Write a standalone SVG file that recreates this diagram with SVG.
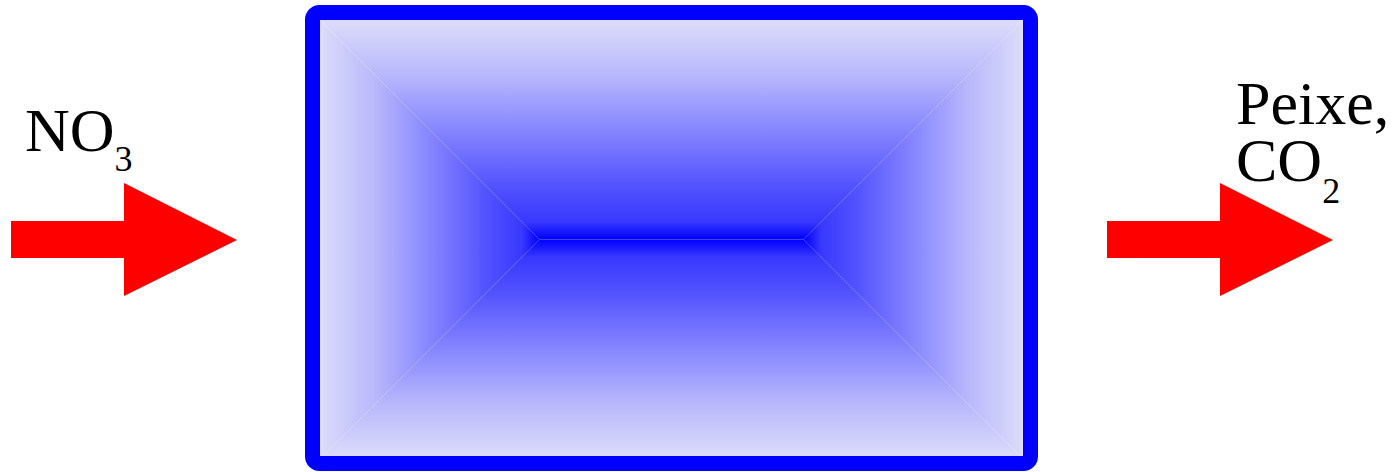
<svg xmlns="http://www.w3.org/2000/svg" width="1394" height="472" viewBox="0 0 1394 472">
<style>
.lbl{font-family:"Liberation Serif","Times New Roman",serif;font-size:62px;fill:#000}
.sub{font-size:36px}
.arrow{fill:#ff0000}
</style>
<defs>
<linearGradient id="gT" gradientUnits="userSpaceOnUse" x1="0" y1="20" x2="0" y2="239.5"><stop offset="0" stop-color="#dcdcfa"/><stop offset="0.25" stop-color="#b8b8fc"/><stop offset="0.5" stop-color="#8686ff"/><stop offset="0.75" stop-color="#5454ff"/><stop offset="0.92" stop-color="#3838ff"/><stop offset="0.97" stop-color="#1414ff"/><stop offset="1" stop-color="#0000ff"/></linearGradient>
<linearGradient id="gB" href="#gT" y1="459" y2="239.5"/>
<linearGradient id="gL" href="#gT" x1="320" y1="0" x2="539.5" y2="0"/>
<linearGradient id="gR" href="#gT" x1="1023" y1="0" x2="803.5" y2="0"/>
</defs>
<g id="tank">
<polygon points="320,20 1023,20 803.5,239.5 539.5,239.5" fill="url(#gT)"/>
<polygon points="320,459 539.5,239.5 803.5,239.5 1023,459" fill="url(#gB)"/>
<polygon points="320,20 539.5,239.5 320,459" fill="url(#gL)"/>
<polygon points="1023,20 803.5,239.5 1023,459" fill="url(#gR)"/>
<rect x="312.5" y="12.5" width="718" height="451" rx="7" fill="none" stroke="#0000ff" stroke-width="15"/>
</g>
<g id="input">
<text class="lbl" x="25" y="151">NO<tspan class="sub" y="171">3</tspan></text>
</g>
<g id="output">
<text class="lbl" x="1236" y="124">Peixe,<tspan x="1236" y="181">CO</tspan><tspan class="sub" y="203">2</tspan></text>
</g>
<g id="connectors">
<polygon class="arrow" points="11,221 124,221 124,183 237,240 124,296 124,258 11,258"/>
<polygon class="arrow" points="1107,221 1220,221 1220,183 1333,240 1220,296 1220,258 1107,258"/>
</g>
</svg>
